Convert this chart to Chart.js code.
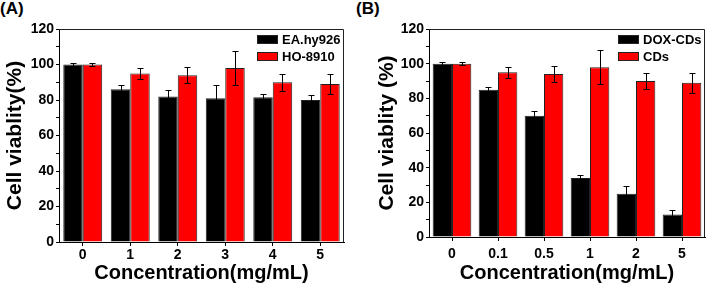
<!DOCTYPE html>
<html>
<head>
<meta charset="utf-8">
<script src="https://cdn.jsdelivr.net/npm/chart.js@4.4.1/dist/chart.umd.min.js"></script>
<style>
  body { margin: 0; background: #fff; width: 709px; height: 285px; overflow: hidden; position: relative; font-family: "Liberation Sans", Arial, sans-serif; }
  canvas { position: absolute; top: 0; }
  #chartA { left: 0; }
  #chartB { left: 355px; }
  .panel { position: absolute; top: -1px; font-weight: bold; font-size: 17px; color: #000; }
</style>
</head>
<body>
<div class="panel" style="left:0">(A)</div>
<div class="panel" style="left:356px">(B)</div>
<canvas id="chartA" width="355" height="285"></canvas>
<canvas id="chartB" width="354" height="285"></canvas>
<script>
const FONT = '"Liberation Sans", Arial, sans-serif';

// panel A
const concA = ['0', '1', '2', '3', '4', '5'];
const eaValues = [100, 86, 82, 81, 81.5, 80];
const eaErrors = [1, 2.2, 3.5, 7.6, 1.9, 2.8];
const hoValues = [100, 95, 94, 98, 90, 89];
const hoErrors = [1, 3, 4.6, 9.6, 4.9, 5.9];

// panel B
const concB = ['0', '0.1', '0.5', '1', '2', '5'];
const doxValues = [100, 85, 70, 34, 25, 13];
const doxErrors = [1, 1.3, 2.6, 1.7, 4.4, 2.3];
const cdsValues = [100, 95, 94, 98, 90, 89];
const cdsErrors = [1, 3.2, 4.6, 9.7, 4.9, 5.9];

const yTickLabels = [0, 20, 40, 60, 80, 100, 120];

Chart.defaults.color = '#000';
Chart.defaults.font.family = FONT;

// error bars drawn through the y scale
const errorBars = {
    id: 'errorBars',
    afterDatasetsDraw(chart) {
        const ctx = chart.ctx;
        const y = chart.scales.y;
        ctx.save();
        ctx.strokeStyle = '#000';
        ctx.lineWidth = 1;
        chart.data.datasets.forEach((ds, i) => {
            chart.getDatasetMeta(i).data.forEach((bar, j) => {
                const v = ds.data[j], e = ds.errors[j];
                const top = Math.round(y.getPixelForValue(v + e)) + 0.5;
                const bot = Math.round(y.getPixelForValue(v - e)) + 0.5;
                const x = Math.round(bar.x) + 0.5;
                ctx.beginPath();
                ctx.moveTo(x, top); ctx.lineTo(x, bot);
                ctx.moveTo(x - 3, top); ctx.lineTo(x + 3, top);
                ctx.moveTo(x - 3, bot); ctx.lineTo(x + 3, bot);
                ctx.stroke();
            });
        });
        ctx.restore();
    }
};

// top and right edges of the frame, plus legend inside the plot
const frameAndLegend = {
    id: 'frameAndLegend',
    afterDraw(chart) {
        const ctx = chart.ctx;
        const a = chart.chartArea;
        ctx.save();
        ctx.strokeStyle = '#222';
        ctx.lineWidth = 1;
        ctx.beginPath();
        ctx.moveTo(a.left, a.top + 0.5);
        ctx.lineTo(a.right - 0.5, a.top + 0.5);
        ctx.lineTo(a.right - 0.5, a.bottom);
        ctx.stroke();

        const bx = a.right - 87;
        chart.data.datasets.forEach((ds, i) => {
            const by = a.top + 6 + i * 17;
            ctx.fillStyle = ds.backgroundColor;
            ctx.fillRect(bx, by, 21, 9);
            ctx.strokeStyle = '#222';
            ctx.strokeRect(bx + 0.5, by + 0.5, 20, 8);
            ctx.fillStyle = '#000';
            ctx.font = 'bold 13px ' + FONT;
            ctx.textBaseline = 'middle';
            ctx.textAlign = 'left';
            ctx.fillText(ds.label, bx + 25, by + 5);
        });
        ctx.restore();
    }
};

function renderPanel({ elementId, labels, series, yTitle, padLeft, padRight, yWidth, xHeight, xPad, catPct }) {
    const ctx = document.getElementById(elementId).getContext('2d');
    return new Chart(ctx, {
        type: 'bar',
        data: {
            labels: labels,
            datasets: series.map(s => ({
                label: s.label,
                data: s.values,
                errors: s.errors,
                backgroundColor: s.color,
                borderColor: '#222',
                borderWidth: 1,
                barPercentage: 1,
                categoryPercentage: catPct
            }))
        },
        options: {
            responsive: false,
            animation: false,
            layout: { padding: { left: padLeft, right: padRight, top: 29, bottom: 0 } },
            plugins: { legend: { display: false }, tooltip: { enabled: false } },
            scales: {
                x: {
                    grid: { drawOnChartArea: false, offset: false, tickLength: 4, color: '#000' },
                    border: { color: '#000', width: 1 },
                    ticks: { font: { size: 14, weight: 'bold' }, padding: xPad, maxRotation: 0 },
                    title: { display: true, text: 'Concentration(mg/mL)', font: { size: 20, weight: 'bold' }, padding: { top: 0, bottom: 0 } },
                    afterFit: s => { s.height = xHeight; }
                },
                y: {
                    min: 0,
                    max: 120,
                    grid: { drawOnChartArea: false, tickLength: 3, color: '#000' },
                    border: { color: '#000', width: 1 },
                    ticks: {
                        stepSize: 10,
                        autoSkip: false,
                        padding: 2,
                        font: { size: 14, weight: 'bold' },
                        callback: v => yTickLabels.includes(v) ? v : ''
                    },
                    title: { display: true, text: yTitle, font: { size: 21, weight: 'bold' }, padding: { top: 3, bottom: 0 } },
                    afterFit: s => { s.width = yWidth; }
                }
            }
        },
        plugins: [errorBars, frameAndLegend]
    });
}

renderPanel({
    elementId: 'chartA',
    labels: concA,
    series: [
        { label: 'EA.hy926', values: eaValues, errors: eaErrors, color: '#000000' },
        { label: 'HO-8910', values: hoValues, errors: hoErrors, color: '#ff0000' }
    ],
    yTitle: 'Cell viablity(%)',
    padLeft: 0, padRight: 11, yWidth: 59, xHeight: 43, xPad: 1, catPct: 0.82
});

renderPanel({
    elementId: 'chartB',
    labels: concB,
    series: [
        { label: 'DOX-CDs', values: doxValues, errors: doxErrors, color: '#000000' },
        { label: 'CDs', values: cdsValues, errors: cdsErrors, color: '#ff0000' }
    ],
    yTitle: 'Cell viablity (%)',
    padLeft: 17, padRight: 4, yWidth: 57, xHeight: 48, xPad: 5, catPct: 0.84
});
</script>
</body>
</html>
